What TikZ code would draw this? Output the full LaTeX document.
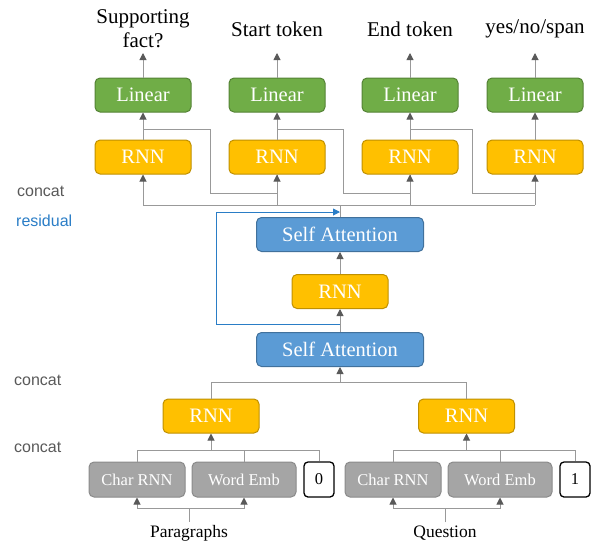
\documentclass[tikz,border=0pt]{standalone}
\usepackage{fontspec}
\setmainfont{Liberation Serif}
\newfontfamily\sidefont{Liberation Sans}
\usetikzlibrary{arrows.meta}

\definecolor{linfill}{HTML}{70AD47}
\definecolor{linedge}{HTML}{548235}
\definecolor{rnnfill}{HTML}{FFC000}
\definecolor{rnnedge}{HTML}{BF9000}
\definecolor{attfill}{HTML}{5B9BD5}
\definecolor{attedge}{HTML}{41719C}
\definecolor{embfill}{HTML}{A5A5A5}
\definecolor{embedge}{HTML}{8A8A8A}
\definecolor{wiregray}{HTML}{999999}
\definecolor{tipgray}{HTML}{595959}
\definecolor{resblue}{HTML}{2A7DC6}
\definecolor{sidegray}{HTML}{595959}

\tikzset{
  blk/.style={draw, rounded corners=5pt, line width=1pt, minimum height=34pt,
    inner sep=0pt, text=white, font=\fontsize{20.5}{22}\selectfont},
  linbox/.style={blk, fill=linfill, draw=linedge, minimum width=96pt},
  rnnbox/.style={blk, fill=rnnfill, draw=rnnedge, minimum width=96pt},
  attbox/.style={blk, fill=attfill, draw=attedge, minimum width=167pt},
  embbox/.style={blk, fill=embfill, draw=embedge, minimum height=35pt,
    font=\fontsize{16.5}{18}\selectfont},
  flagbox/.style={draw=black, fill=white, rounded corners=4pt, line width=1.3pt,
    minimum width=30pt, minimum height=35pt, inner sep=0pt,
    font=\fontsize{16.5}{18}\selectfont},
  outtext/.style={align=center, font=\fontsize{21}{24}\selectfont},
  srctext/.style={font=\fontsize{17.5}{20}\selectfont},
  sidetext/.style={anchor=west, inner sep=0pt, text=sidegray,
    font=\sidefont\fontsize{16}{18}\selectfont},
  conn/.style={draw=wiregray, line width=1pt},
  arr/.style={conn, -{Triangle[length=7pt,width=7pt,color=tipgray]}},
  res/.style={draw=resblue, line width=0.9pt,
    -{Triangle[length=7pt,width=7pt,color=resblue]}}
}

\begin{document}
\begin{tikzpicture}[x=1pt,y=-1pt]
  \useasboundingbox (0,0) rectangle (591,542);

  % output heads
  \foreach \i/\x in {1/143,2/277,3/410,4/535}{
    \node[linbox] (lin\i) at (\x,95) {Linear};
    \node[rnnbox] (rnn\i) at (\x,157) {RNN};
    \coordinate (head\i) at (\x,53);
  }
  \node[outtext] (out1) at (143,29) {Supporting\\fact?};
  \node[outtext] (out2) at (277,29) {Start token};
  \node[outtext] (out3) at (410,29) {End token};
  \node[outtext] (out4) at (535,29) {yes/no/span};

  % each RNN also feeds the next one
  \draw[conn] ([yshift=10pt]rnn1.north) -| (210,193) -| (rnn2.south);
  \draw[conn] ([yshift=10pt]rnn2.north) -| (343,193) -| (rnn3.south);
  \draw[conn] ([yshift=10pt]rnn3.north) -| (472,193) -| (rnn4.south);

  % concat bus
  \coordinate (bus) at (340,205);
  \draw[conn] (rnn1.south |- bus) -- (rnn4.south |- bus);
  \foreach \i in {1,...,4}{
    \draw[arr] (rnn\i.south |- bus) -- (rnn\i.south);
    \draw[arr] (rnn\i) -- (lin\i);
    \draw[arr] (lin\i) -- (head\i);
  }

  % self attention stack
  \node[attbox] (att2) at (340,234.5) {Self Attention};
  \node[rnnbox] (rnnM) at (340,291.5) {RNN};
  \node[attbox] (att1) at (340,349.5) {Self Attention};
  \draw[conn] (att2.north) -- (bus);
  \draw[arr] (rnnM) -- (att2);
  \draw[arr] (att1) -- (rnnM);
  \draw[res] ([yshift=8pt]att1.north) -| (216,212) -- ([yshift=5pt]att2.north);

  % encoders
  \node[rnnbox] (rnnP) at (211,416) {RNN};
  \node[rnnbox] (rnnQ) at (466.5,416) {RNN};
  \coordinate (mbus) at (340,382);
  \draw[conn] (rnnP.north) -- (rnnP.north |- mbus) -- (rnnQ.north |- mbus)
    -- (rnnQ.north);
  \draw[arr] (mbus) -- (att1.south);

  % inputs
  \node[embbox, minimum width=96pt] (charP) at (137,479.5) {Char RNN};
  \node[embbox, minimum width=104pt] (wordP) at (244,479.5) {Word Emb};
  \node[flagbox] (flagP) at (319,479.5) {0};
  \node[embbox, minimum width=96pt] (charQ) at (393,479.5) {Char RNN};
  \node[embbox, minimum width=104pt] (wordQ) at (500,479.5) {Word Emb};
  \node[flagbox] (flagQ) at (575,479.5) {1};

  \coordinate (cbusP) at (211,450);
  \coordinate (cbusQ) at (466.5,450);
  \draw[conn] (charP.north) -- (charP.north |- cbusP) -- (flagP.north |- cbusP)
    -- (flagP.north);
  \draw[conn] (wordP.north) -- (wordP.north |- cbusP);
  \draw[arr] (cbusP) -- (rnnP.south);
  \draw[conn] (charQ.north) -- (charQ.north |- cbusQ) -- (flagQ.north |- cbusQ)
    -- (flagQ.north);
  \draw[conn] (wordQ.north) -- (wordQ.north |- cbusQ);
  \draw[arr] (cbusQ) -- (rnnQ.south);

  \node[srctext] (parP) at (189,533) {Paragraphs};
  \node[srctext] (parQ) at (445,533) {Question};
  \coordinate (splitP) at (189,508);
  \coordinate (splitQ) at (445,508);
  \draw[conn] (parP.north) -- (splitP);
  \draw[arr] (splitP) -| (charP.south);
  \draw[arr] (splitP) -| (wordP.south);
  \draw[conn] (parQ.north) -- (splitQ);
  \draw[arr] (splitQ) -| (charQ.south);
  \draw[arr] (splitQ) -| (wordQ.south);

  % side notes
  \node[sidetext] (cc1) at (17,191) {concat};
  \node[sidetext, text=resblue] (resid) at (16,221) {residual};
  \node[sidetext] (cc2) at (14,380) {concat};
  \node[sidetext] (cc3) at (14,447) {concat};
\end{tikzpicture}
\end{document}
